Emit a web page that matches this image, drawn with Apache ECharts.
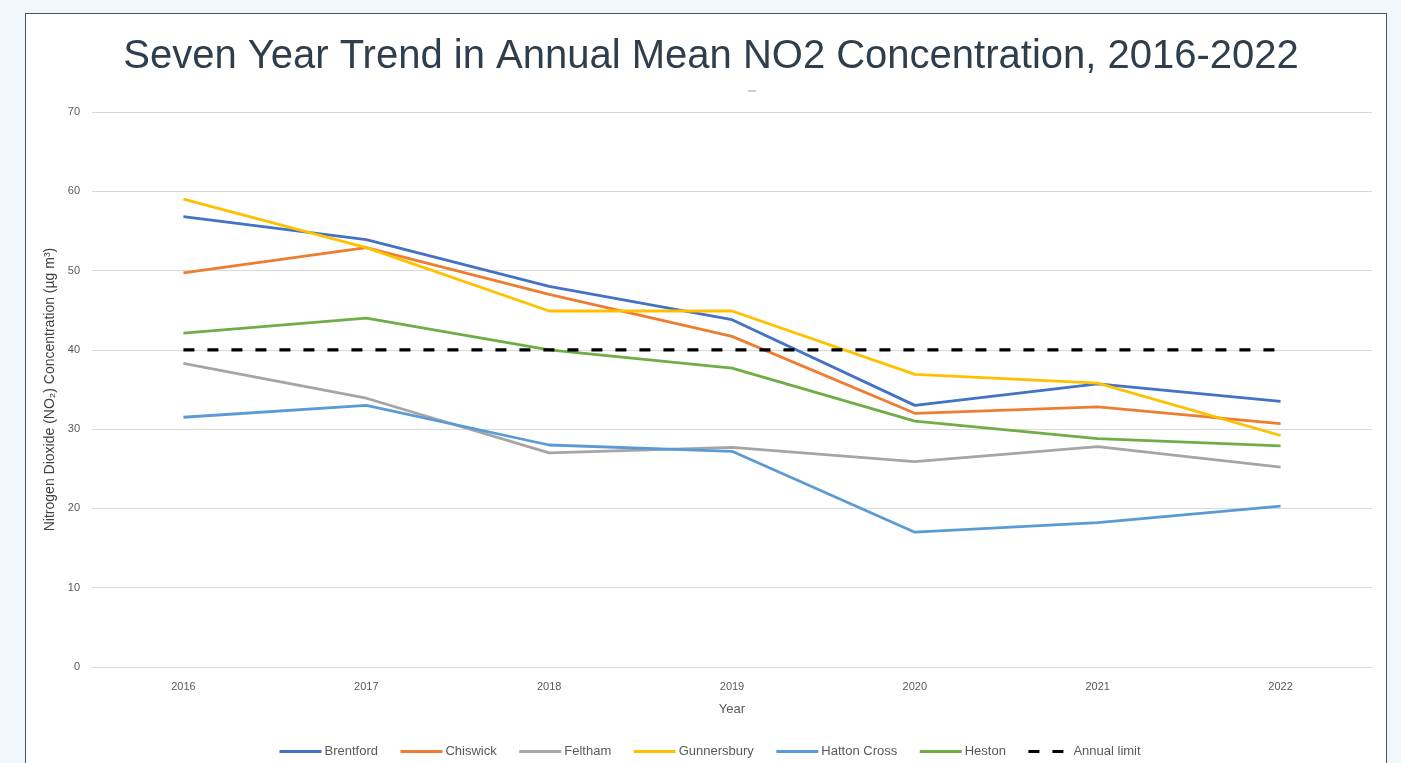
<!DOCTYPE html>
<html lang="en">
<head>
    <meta charset="UTF-8">
    <title>NO2 trend</title>
    <script src="https://cdn.jsdelivr.net/npm/echarts@6/dist/echarts.min.js"></script>
    <style>
        html, body { margin: 0; padding: 0; background: #eff7fa; }
        #box { position: absolute; left: 25px; top: 13px; width: 1360px; height: 800px;
               background: #fff; border: 1.5px solid #4a5561; }
        #main { position: absolute; left: 0; top: 0; width: 1401px; height: 763px; }
    </style>
</head>
<body>
    <div id="box"></div>
    <div id="main"></div>
</body>

<script>
    // data
    var years = ['2016', '2017', '2018', '2019', '2020', '2021', '2022'];
    var brentford   = [56.8, 53.9, 48.0, 43.8, 33.0, 35.7, 33.5];
    var chiswick    = [49.7, 52.9, 47.0, 41.7, 32.0, 32.8, 30.7];
    var feltham     = [38.3, 33.9, 27.0, 27.7, 25.9, 27.8, 25.2];
    var gunnersbury = [59.0, 52.9, 44.9, 44.9, 36.9, 35.8, 29.2];
    var hattonCross = [31.5, 33.0, 28.0, 27.2, 17.0, 18.2, 20.3];
    var heston      = [42.1, 44.0, 40.0, 37.7, 31.0, 28.8, 27.9];
    var annualLimit = [40, 40, 40, 40, 40, 40, 40];

    var myChart = echarts.init(document.getElementById('main'));
    var labelFont = 'Liberation Sans, Arial, sans-serif';

    function mkLine(name, data, color, dashed) {
        return {
            name: name,
            type: 'line',
            data: data,
            symbol: 'none',
            smooth: false,
            z: dashed ? 3 : 2,
            lineStyle: {
                color: color,
                width: dashed ? 3.2 : 2.8,
                type: dashed ? [11, 13] : 'solid'
            },
            itemStyle: { color: color }
        };
    }

    var option = {
        animation: false,
        title: {
            text: 'Seven Year Trend in Annual Mean NO2 Concentration, 2016-2022',
            left: 706,
            textAlign: 'center',
            top: 32,
            textStyle: {
                color: '#2f3e4d',
                fontSize: 40,
                fontWeight: 'normal',
                fontFamily: labelFont
            }
        },
        // little grey tick under the title, as in the source image
        graphic: [{
            type: 'line',
            shape: { x1: 748, y1: 91, x2: 756, y2: 91 },
            style: { stroke: '#9a9a9a', lineWidth: 1 }
        }],
        legend: {
            bottom: 0,
            left: 273,
            itemWidth: 42,
            itemHeight: 4,
            itemGap: 21,
            itemStyle: { opacity: 0 },
            lineStyle: { width: 3 },
            textStyle: { color: '#595959', fontSize: 13, fontFamily: labelFont, padding: [0, 0, 0, -2] },
            data: ['Brentford', 'Chiswick', 'Feltham', 'Gunnersbury', 'Hatton Cross', 'Heston', 'Annual limit']
        },
        grid: {
            left: 92,
            right: 29,
            top: 112,
            bottom: 96
        },
        xAxis: {
            type: 'category',
            data: years,
            boundaryGap: true,
            name: 'Year',
            nameLocation: 'middle',
            nameGap: 36,
            nameTextStyle: { color: '#595959', fontSize: 13, fontFamily: labelFont },
            axisLine: { show: true, lineStyle: { color: '#d9d9d9' } },
            axisTick: { show: false },
            axisLabel: { color: '#595959', fontSize: 11, margin: 14, fontFamily: labelFont }
        },
        yAxis: {
            type: 'value',
            min: 0,
            max: 70,
            interval: 10,
            name: 'Nitrogen Dioxide (NO\u2082) Concentration (\u00b5g m\u00b3)',
            nameLocation: 'middle',
            nameGap: 33,
            nameTextStyle: { color: '#404040', fontSize: 14, fontFamily: labelFont },
            axisLine: { show: false },
            axisTick: { show: false },
            axisLabel: { color: '#595959', fontSize: 11, margin: 12, fontFamily: labelFont },
            splitLine: { lineStyle: { color: '#d9d9d9', width: 1 } }
        },
        series: [
            mkLine('Brentford', brentford, '#4472C4'),
            mkLine('Chiswick', chiswick, '#ED7D31'),
            mkLine('Feltham', feltham, '#A5A5A5'),
            mkLine('Gunnersbury', gunnersbury, '#FFC000'),
            mkLine('Hatton Cross', hattonCross, '#5B9BD5'),
            mkLine('Heston', heston, '#70AD47'),
            mkLine('Annual limit', annualLimit, '#000000', true)
        ]
    };

    myChart.setOption(option);
</script>
</html>
